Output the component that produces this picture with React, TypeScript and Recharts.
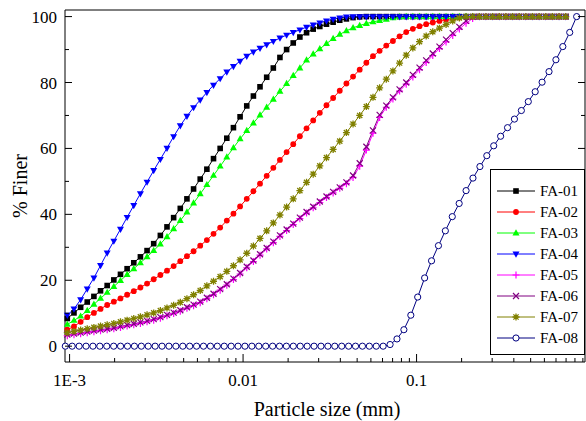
import { LineChart, Line, XAxis, YAxis, Legend, Label } from 'recharts';

const FONT = 'Liberation Serif, DejaVu Serif, serif';

// particle size grid (mm) used by FA-01 .. FA-07
const sizesA = [
  0.00097, 0.00106, 0.001158, 0.001264, 0.001381, 0.001508, 0.001647, 0.001799, 0.001965, 0.002146,
  0.002344, 0.00256, 0.002796, 0.003054, 0.003336, 0.003643, 0.003979, 0.004346, 0.004747, 0.005184,
  0.005662, 0.006185, 0.006755, 0.007378, 0.008058, 0.0088, 0.009612,
  0.0105, 0.01147, 0.01252, 0.01368, 0.01494, 0.01631, 0.01782, 0.01946, 0.02125, 0.02322,
  0.02536, 0.02769, 0.03025, 0.03304, 0.03608, 0.03941, 0.04304, 0.04701, 0.05135, 0.05608,
  0.06125, 0.0669, 0.07307, 0.0798, 0.08716, 0.09519,
  0.104, 0.1136, 0.124, 0.1355, 0.1479, 0.1616, 0.1765, 0.1928, 0.2105, 0.2299,
  0.2511, 0.2743, 0.2996, 0.3272, 0.3574, 0.3903, 0.4263, 0.4656, 0.5085, 0.5554,
  0.6066, 0.6625, 0.7236,
];

// particle size grid (mm) used by FA-08
const sizesB = [
  0.000945, 0.001035, 0.001135, 0.001244, 0.001363, 0.001494, 0.001638, 0.001795, 0.001967, 0.002157,
  0.002364, 0.002591, 0.002839, 0.003112, 0.003411, 0.003738, 0.004099, 0.004492, 0.004923, 0.005395,
  0.005914, 0.006482, 0.007104, 0.007788, 0.008535, 0.009354,
  0.01025, 0.01124, 0.01232, 0.0135, 0.0148, 0.01622, 0.01777, 0.01948, 0.02135, 0.02341,
  0.02565, 0.02812, 0.03082, 0.03378, 0.03703, 0.04058, 0.04447, 0.04874, 0.05343, 0.05856,
  0.06418, 0.07036, 0.07711, 0.08451, 0.09266,
  0.1015, 0.1113, 0.122, 0.1337, 0.1465, 0.1606, 0.176, 0.1929, 0.2114, 0.2318,
  0.254, 0.2784, 0.3051, 0.3345, 0.3666, 0.4018, 0.4405, 0.4827, 0.529, 0.58,
  0.6356, 0.6966, 0.7635, 0.837,
];

// % finer
const fa01 = [
  8.4, 10.1, 11.8, 13.4, 15.1, 16.8, 18.4, 20.1, 21.8, 23.5,
  25.3, 27.1, 29.0, 31.1, 33.6, 36.2, 39.0, 41.8, 44.7, 47.7,
  50.7, 53.7, 56.9, 60.0, 63.1, 66.3, 69.6, 72.9, 75.9, 78.7,
  81.6, 84.4, 87.6, 90.0, 92.0, 93.8, 95.1, 96.2, 97.0, 97.7,
  98.3, 98.9, 99.3, 99.7, 99.9, 100, 100, 100, 100, 100,
  100, 100, 100, 100, 100, 100, 100, 100, 100, 100,
  100, 100, 100, 100, 100, 100, 100, 100, 100, 100,
  100, 100, 100, 100, 100, 100,
];
const fa02 = [
  5.0, 6.0, 7.4, 8.8, 10.1, 11.3, 12.5, 13.5, 14.5, 15.6,
  16.7, 17.8, 19.0, 20.3, 21.6, 22.9, 24.3, 25.8, 27.3, 28.8,
  30.5, 32.2, 34.1, 36.0, 38.1, 40.2, 42.4, 44.7, 47.0, 49.3,
  51.7, 54.1, 56.5, 58.9, 61.3, 63.7, 66.1, 68.5, 70.8, 73.1,
  75.3, 77.5, 79.7, 81.8, 83.9, 86.0, 88.0, 89.6, 91.2, 92.6,
  94.0, 95.3, 96.3, 97.1, 97.7, 98.2, 98.7, 99.1, 99.4, 99.7,
  99.9, 100, 100, 100, 100, 100, 100, 100, 100, 100,
  100, 100, 100, 100, 100, 100,
];
const fa03 = [
  6.6, 7.8, 9.1, 10.8, 12.7, 14.5, 16.3, 18.1, 19.9, 21.7,
  23.5, 25.3, 27.1, 29.0, 31.0, 33.2, 35.6, 38.1, 40.7, 43.4,
  46.2, 49.0, 51.8, 54.6, 57.4, 60.2, 62.9, 65.4, 67.7, 70.1,
  72.5, 74.9, 77.3, 79.7, 82.1, 84.4, 86.8, 88.6, 90.2, 91.8,
  93.3, 94.6, 95.7, 96.6, 97.3, 97.9, 98.4, 98.8, 99.2, 99.6,
  99.9, 100, 100, 100, 100, 100, 100, 100, 100, 100,
  100, 100, 100, 100, 100, 100, 100, 100, 100, 100,
  100, 100, 100, 100, 100, 100,
];
const fa04 = [
  9.4, 11.3, 14.1, 17.4, 20.7, 24.5, 28.3, 31.9, 35.5, 39.1,
  42.7, 46.3, 49.8, 53.3, 56.7, 60.1, 63.6, 66.9, 69.8, 72.4,
  74.7, 77.0, 79.2, 81.2, 83.2, 84.9, 86.5, 88.0, 89.3, 90.4,
  91.5, 92.5, 93.5, 94.4, 95.2, 96.0, 96.8, 97.5, 98.1, 98.7,
  99.2, 99.6, 99.9, 100, 100, 100, 100, 100, 100, 100,
  100, 100, 100, 100, 100, 100, 100, 100, 100, 100,
  100, 100, 100, 100, 100, 100, 100, 100, 100, 100,
  100, 100, 100, 100, 100, 100,
];
const fa05 = [
  3.2, 3.5, 3.8, 4.1, 4.4, 4.7, 5.0, 5.3, 5.7, 6.1,
  6.5, 6.9, 7.4, 7.9, 8.5, 9.2, 9.9, 10.6, 11.5, 12.3,
  13.2, 14.4, 15.6, 17.0, 18.5, 20.2, 21.9, 23.8, 25.7, 27.6,
  29.5, 31.4, 33.3, 35.1, 36.9, 38.7, 40.4, 42.0, 43.6, 45.1,
  46.5, 47.9, 49.3, 51.2, 54.6, 59.5, 64.6, 69.4, 72.5, 75.0,
  77.4, 79.5, 81.7, 83.9, 86.1, 88.2, 90.3, 92.3, 94.3, 96.2,
  98.0, 99.4, 100, 100, 100, 100, 100, 100, 100, 100,
  100, 100, 100, 100, 100, 100,
];
const fa06 = [
  3.5, 3.8, 4.1, 4.4, 4.7, 5.0, 5.3, 5.6, 6.0, 6.4,
  6.8, 7.2, 7.7, 8.2, 8.8, 9.5, 10.2, 10.9, 11.8, 12.6,
  13.5, 14.7, 15.9, 17.3, 18.8, 20.5, 22.2, 24.1, 26.0, 27.9,
  29.8, 31.7, 33.6, 35.4, 37.2, 39.0, 40.7, 42.3, 43.9, 45.4,
  46.8, 48.2, 49.7, 51.8, 55.5, 60.5, 65.5, 70.2, 73.0, 75.5,
  77.9, 80.0, 82.3, 84.5, 86.7, 88.8, 90.9, 93.0, 95.0, 96.9,
  98.7, 99.9, 100, 100, 100, 100, 100, 100, 100, 100,
  100, 100, 100, 100, 100, 100,
];
const fa07 = [
  4.1, 4.5, 4.9, 5.3, 5.7, 6.1, 6.5, 6.9, 7.4, 7.9,
  8.4, 8.9, 9.5, 10.1, 10.8, 11.6, 12.4, 13.3, 14.4, 15.6,
  16.9, 18.3, 19.7, 21.1, 22.7, 24.4, 26.2, 28.2, 30.4, 32.7,
  35.0, 37.4, 39.8, 42.2, 44.7, 47.2, 49.7, 52.2, 54.7, 57.2,
  59.7, 62.2, 64.8, 67.4, 70.0, 72.7, 75.5, 78.4, 81.0, 83.5,
  85.9, 88.3, 90.5, 92.4, 94.1, 95.4, 96.5, 97.6, 98.7, 99.6,
  100, 100, 100, 100, 100, 100, 100, 100, 100, 100,
  100, 100, 100, 100, 100, 100,
];
const fa08 = [
  0, 0, 0, 0, 0, 0, 0, 0, 0, 0,
  0, 0, 0, 0, 0, 0, 0, 0, 0, 0,
  0, 0, 0, 0, 0, 0, 0, 0, 0, 0,
  0, 0, 0, 0, 0, 0, 0, 0, 0, 0,
  0, 0, 0, 0, 0, 0, 0, 0.5, 2.2, 5.0,
  9.4, 14.9, 20.7, 25.9, 30.5, 35.0, 39.3, 43.3, 47.2, 51.0,
  54.5, 57.8, 60.8, 63.7, 66.3, 68.9, 71.5, 74.2, 77.2, 80.1,
  83.3, 86.9, 90.9, 95.2, 100,
];

const xMajor = [0.001, 0.01, 0.1];
const xMajorLabels = ['1E-3', '0.01', '0.1'];
const xMinor = [
  0.001818, 0.002727, 0.003636, 0.004545, 0.005455, 0.006364, 0.007273, 0.008182, 0.009091,
  0.01818, 0.02727, 0.03636, 0.04545, 0.05455, 0.06364, 0.07273, 0.08182, 0.09091,
  0.1818, 0.2727, 0.3636, 0.4545, 0.5455, 0.6364, 0.7273, 0.8182, 0.9091,
];
const yTicks = [0, 10, 20, 30, 40, 50, 60, 70, 80, 90, 100];
const yMajor = [0, 20, 40, 60, 80, 100];

const xTicks = [...xMajor, ...xMinor].sort((a, b) => a - b);

const series = [
  { name: 'FA-01', color: '#000000', shape: 'square', sizes: sizesA, values: fa01 },
  { name: 'FA-02', color: '#ff0000', shape: 'circle', sizes: sizesA, values: fa02 },
  { name: 'FA-03', color: '#00ff00', shape: 'up', sizes: sizesA, values: fa03 },
  { name: 'FA-04', color: '#0000ff', shape: 'down', sizes: sizesA, values: fa04 },
  { name: 'FA-05', color: '#ff00ff', shape: 'plus', sizes: sizesA, values: fa05 },
  { name: 'FA-06', color: '#800080', shape: 'cross', sizes: sizesA, values: fa06 },
  { name: 'FA-07', color: '#808000', shape: 'star', sizes: sizesA, values: fa07 },
  { name: 'FA-08', color: '#000080', shape: 'open', sizes: sizesB, values: fa08 },
];

const textStyle = { fontFamily: FONT };

function Marker({ cx, cy, shape, color }: { cx: number; cy: number; shape: string; color: string }) {
  if (cx == null || cy == null) return null;
  switch (shape) {
    case 'square':
      return <rect x={cx - 2.8} y={cy - 2.8} width={5.6} height={5.6} fill={color} />;
    case 'circle':
      return <circle cx={cx} cy={cy} r={2.9} fill={color} />;
    case 'up':
      return <polygon points={`${cx},${cy - 3.8} ${cx + 3.5},${cy + 2.4} ${cx - 3.5},${cy + 2.4}`} fill={color} />;
    case 'down':
      return <polygon points={`${cx},${cy + 3.8} ${cx + 3.5},${cy - 2.4} ${cx - 3.5},${cy - 2.4}`} fill={color} />;
    case 'plus':
      return <path d={`M${cx - 3.5},${cy}H${cx + 3.5}M${cx},${cy - 3.5}V${cy + 3.5}`} stroke={color} strokeWidth={1.2} />;
    case 'cross':
      return <path d={`M${cx - 3},${cy - 3}L${cx + 3},${cy + 3}M${cx + 3},${cy - 3}L${cx - 3},${cy + 3}`} stroke={color} strokeWidth={1.2} />;
    case 'star':
      return (
        <path
          d={`M${cx - 3.5},${cy}H${cx + 3.5}M${cx},${cy - 3.5}V${cy + 3.5}M${cx - 2.6},${cy - 2.6}L${cx + 2.6},${cy + 2.6}M${cx + 2.6},${cy - 2.6}L${cx - 2.6},${cy + 2.6}`}
          stroke={color}
          strokeWidth={1.3}
        />
      );
    default:
      return <circle cx={cx} cy={cy} r={3.1} fill="#fff" stroke={color} strokeWidth={1} />;
  }
}

// eslint-disable-next-line @typescript-eslint/no-explicit-any
function BottomTick({ x, y, payload }: any) {
  const i = xMajor.indexOf(payload.value);
  return (
    <g>
      <line x1={x} y1={y} x2={x} y2={y - (i >= 0 ? 8 : 4)} stroke="#000" />
      {i >= 0 && (
        <text x={x} y={y + 24} textAnchor="middle" fontSize={17} style={textStyle} fill="#000">
          {xMajorLabels[i]}
        </text>
      )}
    </g>
  );
}

// eslint-disable-next-line @typescript-eslint/no-explicit-any
function TopTick({ x, y, payload }: any) {
  const major = xMajor.includes(payload.value);
  return <line x1={x} y1={y} x2={x} y2={y + (major ? 8 : 4)} stroke="#000" />;
}

// eslint-disable-next-line @typescript-eslint/no-explicit-any
function LeftTick({ x, y, payload }: any) {
  const major = yMajor.includes(payload.value);
  return (
    <g>
      <line x1={x} y1={y} x2={x + (major ? 7 : 4)} y2={y} stroke="#000" />
      {major && (
        <text x={x - 8} y={y + 6} textAnchor="end" fontSize={17} style={textStyle} fill="#000">
          {payload.value}
        </text>
      )}
    </g>
  );
}

// eslint-disable-next-line @typescript-eslint/no-explicit-any
function RightTick({ x, y, payload }: any) {
  const major = yMajor.includes(payload.value);
  return <line x1={x} y1={y} x2={x - (major ? 7 : 4)} y2={y} stroke="#000" />;
}

function LegendBox() {
  return (
    <svg width={96} height={187} style={{ display: 'block' }}>
      <rect x={0.5} y={0.5} width={94} height={185} fill="#fff" stroke="#000" />
      {series.map((s, i) => {
        const cy = 22 + i * 21;
        return (
          <g key={s.name}>
            <line x1={7} y1={cy} x2={45} y2={cy} stroke={s.color} />
            <Marker cx={26} cy={cy} shape={s.shape} color={s.color} />
            <text x={50} y={cy + 5} fontSize={15} style={textStyle} fill="#000">
              {s.name}
            </text>
          </g>
        );
      })}
    </svg>
  );
}

export default function App() {
  return (
    <div style={{ position: 'absolute', left: 0, top: 0, width: 586, height: 421, background: '#fff', fontFamily: FONT }}>
      <LineChart width={586} height={421} margin={{ top: 9, right: 0, bottom: 0, left: 0 }}>
        <XAxis
          xAxisId="b"
          dataKey="x"
          type="number"
          scale="log"
          domain={[0.000941, 0.935]}
          ticks={xTicks}
          interval={0}
          tick={<BottomTick />}
          tickSize={0}
          tickMargin={0}
          tickLine={false}
          axisLine={{ stroke: '#000' }}
          height={59}
        >
          <Label
            content={() => (
              <text x={327} y={416} textAnchor="middle" fontSize={20} style={textStyle} fill="#000">
                Particle size (mm)
              </text>
            )}
          />
        </XAxis>
        <XAxis
          xAxisId="t"
          orientation="top"
          type="number"
          scale="log"
          domain={[0.000941, 0.935]}
          allowDataOverflow
          ticks={xTicks}
          interval={0}
          tick={<TopTick />}
          tickSize={0}
          tickMargin={0}
          tickLine={false}
          axisLine={{ stroke: '#000' }}
          height={1}
        />
        <YAxis
          yAxisId="l"
          type="number"
          domain={[-4.8, 102]}
          ticks={yTicks}
          interval={0}
          tick={<LeftTick />}
          tickSize={0}
          tickMargin={0}
          tickLine={false}
          axisLine={{ stroke: '#000' }}
          width={65}
        >
          <Label
            content={() => (
              <text
                x={27}
                y={186}
                transform="rotate(-90, 27, 186)"
                textAnchor="middle"
                fontSize={20}
                style={textStyle}
                fill="#000"
              >
                % Finer
              </text>
            )}
          />
        </YAxis>
        <YAxis
          yAxisId="r"
          orientation="right"
          type="number"
          domain={[-4.8, 102]}
          allowDataOverflow
          ticks={yTicks}
          interval={0}
          tick={<RightTick />}
          tickSize={0}
          tickMargin={0}
          tickLine={false}
          axisLine={{ stroke: '#000' }}
          width={1}
        />
        {series.map((s) => (
          <Line
            key={s.name}
            xAxisId="b"
            yAxisId="l"
            data={s.sizes.map((x, i) => ({ x, v: s.values[i] }))}
            dataKey="v"
            name={s.name}
            type="linear"
            stroke={s.color}
            strokeWidth={1}
            // eslint-disable-next-line @typescript-eslint/no-explicit-any
            dot={(p: any) => (
              <Marker key={`${s.name}-${p.index}`} cx={p.cx} cy={p.cy} shape={s.shape} color={s.color} />
            )}
            activeDot={false}
            isAnimationActive={false}
          />
        ))}
        <Legend
          layout="vertical"
          align="center"
          verticalAlign="middle"
          content={() => <LegendBox />}
          wrapperStyle={{ left: 490, top: 169, width: 96, height: 187 }}
        />
      </LineChart>
    </div>
  );
}
